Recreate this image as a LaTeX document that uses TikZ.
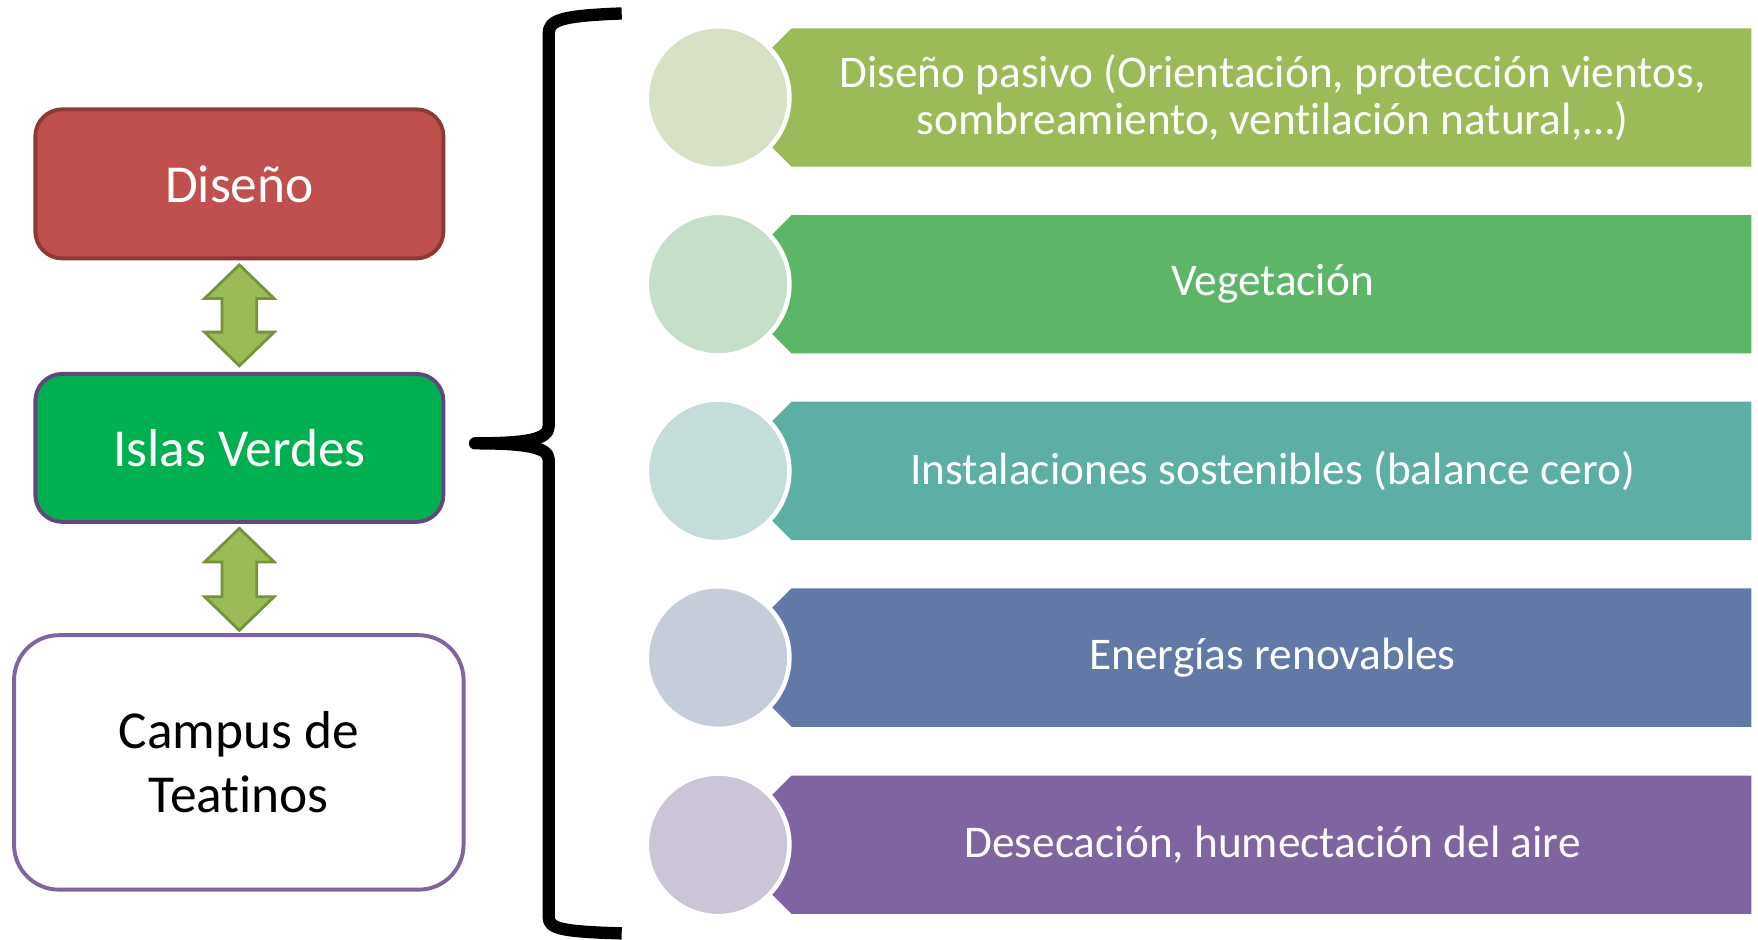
\documentclass[tikz,border=0pt]{standalone}
\usepackage{fontspec}
\setmainfont[Ligatures=NoCommon]{Carlito}
\usetikzlibrary{calc}
\definecolor{dred}{HTML}{C0504D}
\definecolor{dredb}{HTML}{8C3A37}
\definecolor{igreen}{HTML}{00B050}
\definecolor{igreenb}{HTML}{5F497A}
\definecolor{campb}{HTML}{8064A2}
\definecolor{arrf}{HTML}{9BBB59}
\definecolor{arrb}{HTML}{76923C}
\definecolor{bA}{HTML}{9BBB59}\definecolor{cA}{HTML}{D6E1C6}
\definecolor{bB}{HTML}{5DB568}\definecolor{cB}{HTML}{C5DFC9}
\definecolor{bC}{HTML}{5DAFA6}\definecolor{cC}{HTML}{C5DDDA}
\definecolor{bD}{HTML}{6279A8}\definecolor{cD}{HTML}{C5CDDB}
\definecolor{bE}{HTML}{8064A2}\definecolor{cE}{HTML}{CCC5D7}
\tikzset{
  leftbox/.style={rectangle, line width=0.07cm, inner sep=0pt, align=center,
    font=\fontsize{27.1}{32.3}\selectfont},
  dblarrow/.style={fill=arrf, draw=arrb, line width=0.05cm, line join=miter},
  bracestyle/.style={draw=black, line width=0.22cm, line join=round},
  itemtext/.style={text=white, align=center, inner sep=0pt,
    font=\fontsize{23}{23.9}\selectfont},
  disc/.style={circle, draw=white, line width=0.08cm, minimum size=2.544cm, inner sep=0pt}
}
\begin{document}
\begin{tikzpicture}[x=0.02cm,y=-0.02cm]
\useasboundingbox (0,0) rectangle (1568,838.4);

% left boxes
\node[leftbox, fill=dred, draw=dredb, text=white, minimum width=7.28cm, minimum height=2.66cm,
      rounded corners=0.48cm] (dis) at (213.5,164) {Diseño};
\node[leftbox, fill=igreen, draw=igreenb, text=white, minimum width=7.28cm, minimum height=2.64cm,
      rounded corners=0.48cm] (isl) at (213.5,399.5) {Islas Verdes};
\node[leftbox, fill=white, draw=campb, text=black, minimum width=8.02cm, minimum height=4.54cm,
      rounded corners=0.8cm] (cam) at (213,680) {Campus de\\Teatinos};

% double arrows
\draw[dblarrow] ($(dis.south)+(0,4)$) -- ++(31,30) -- ++(-15.5,0) -- ++(0,30) -- ++(15.5,0)
  -- ++(-31,30) -- ++(-31,-30) -- ++(15.5,0) -- ++(0,-30) -- ++(-15.5,0) -- cycle;
\draw[dblarrow] ($(isl.south)+(0,4)$) -- ++(31,30) -- ++(-15.5,0) -- ++(0,31) -- ++(15.5,0)
  -- ++(-31,30) -- ++(-31,-30) -- ++(15.5,0) -- ++(0,-31) -- ++(-15.5,0) -- cycle;

% brace
\coordinate (tip) at ($(isl.east)+(26.5,-4.1)$);
\draw[bracestyle] (554.5,12) .. controls (500,14) and (489.4,18) .. (489.4,30)
  -- (489.4,380) .. controls (489.4,392) and (470,395.4) .. (tip)
  .. controls (470,395.4) and (489.4,399) .. (489.4,410)
  -- (489.4,818) .. controls (489.4,828) and (500,831) .. (554.5,832.5);

% items
\foreach \yy/\bc/\cc/\tt [count=\i] in {
  87/bA/cA/{Diseño pasivo (Orientación, protección vientos,\\sombreamiento, ventilación natural,…)},
  253.5/bB/cB/{Vegetación},
  420/bC/cC/{Instalaciones sostenibles (balance cero)},
  586.5/bD/cD/{Energías renovables},
  753.5/bE/cE/{Desecación, humectación del aire}} {
  \fill[\bc] (706,\yy-61.7) -- (1562,\yy-61.7) -- (1562,\yy+61.7) -- (706,\yy+61.7)
     -- (644.3,\yy) -- cycle;
  \node[disc, fill=\cc] (c\i) at (640.5,\yy) {};
  \node[itemtext] (t\i) at (1135,\yy) {\tt};
}
\end{tikzpicture}
\end{document}
